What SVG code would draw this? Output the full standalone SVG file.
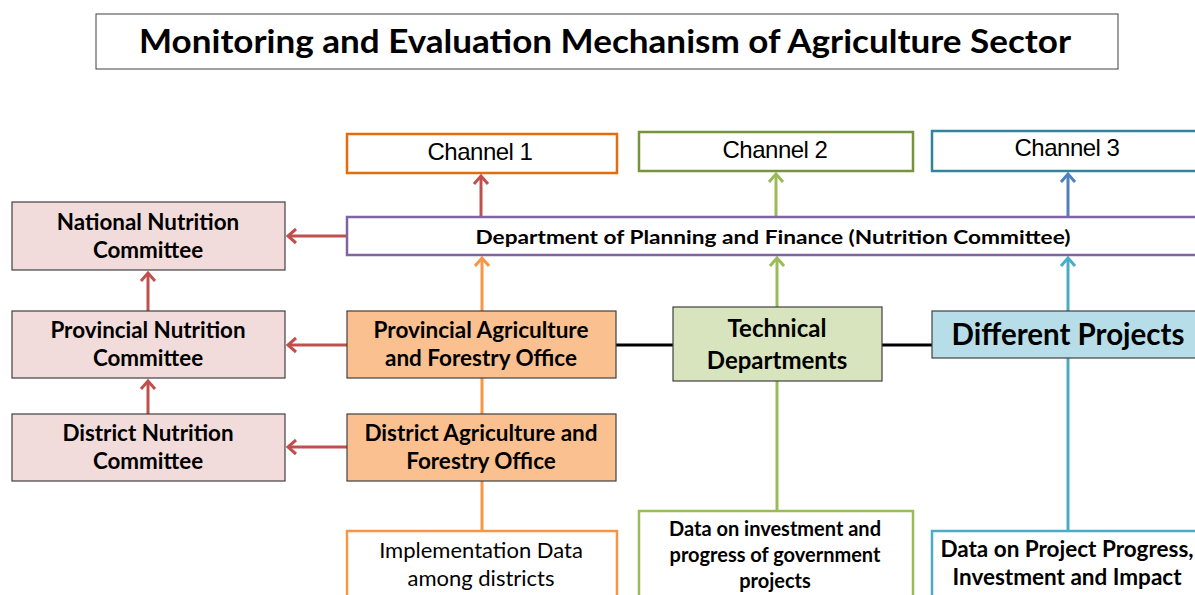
<svg xmlns="http://www.w3.org/2000/svg" width="1195" height="595" viewBox="0 0 1195 595">
<style>
.t{font-family:Lato,"Open Sans","Liberation Sans",sans-serif;font-weight:bold;fill:#000;text-anchor:middle}
.r{font-family:Lato,"Open Sans","Liberation Sans",sans-serif;fill:#000;text-anchor:middle}
.a{font-family:"Liberation Sans",Arial,sans-serif;fill:#000;text-anchor:middle;letter-spacing:-0.5px}
.box{stroke:#404040;stroke-width:1.2}
.c{fill:none;stroke-width:3}
</style>
<defs>
<marker id="mr" markerUnits="userSpaceOnUse" markerWidth="20" markerHeight="20" refX="10" refY="10" orient="auto"><path d="M2,3 L10,10 L2,17" fill="none" stroke="#C0504D" stroke-width="3"/></marker>
<marker id="mo" markerUnits="userSpaceOnUse" markerWidth="20" markerHeight="20" refX="10" refY="10" orient="auto"><path d="M2,3 L10,10 L2,17" fill="none" stroke="#F79646" stroke-width="3"/></marker>
<marker id="mg" markerUnits="userSpaceOnUse" markerWidth="20" markerHeight="20" refX="10" refY="10" orient="auto"><path d="M2,3 L10,10 L2,17" fill="none" stroke="#9BBB59" stroke-width="3"/></marker>
<marker id="mb" markerUnits="userSpaceOnUse" markerWidth="20" markerHeight="20" refX="10" refY="10" orient="auto"><path d="M2,3 L10,10 L2,17" fill="none" stroke="#4F81BD" stroke-width="3"/></marker>
<marker id="mt" markerUnits="userSpaceOnUse" markerWidth="20" markerHeight="20" refX="10" refY="10" orient="auto"><path d="M2,3 L10,10 L2,17" fill="none" stroke="#4BACC6" stroke-width="3"/></marker>
</defs>
<rect width="1195" height="595" fill="#fff"/>

<g id="title">
<rect x="96" y="14" width="1022" height="55" fill="#fff" stroke="#404040" stroke-width="1"/>
<text class="t" x="605" y="53" font-size="32" textLength="932" lengthAdjust="spacingAndGlyphs">Monitoring and Evaluation Mechanism of Agriculture Sector</text>
</g>

<g id="connectors">
<line class="c" stroke="#C0504D" x1="347" y1="236" x2="288" y2="236" marker-end="url(#mr)"/>
<line class="c" stroke="#C0504D" x1="347" y1="345" x2="288" y2="345" marker-end="url(#mr)"/>
<line class="c" stroke="#C0504D" x1="347" y1="447" x2="288" y2="447" marker-end="url(#mr)"/>
<line class="c" stroke="#C0504D" x1="148" y1="414" x2="148" y2="381" marker-end="url(#mr)"/>
<line class="c" stroke="#C0504D" x1="148" y1="311" x2="148" y2="273" marker-end="url(#mr)"/>
<line class="c" stroke="#C0504D" x1="481" y1="216" x2="481" y2="176" marker-end="url(#mr)"/>
<line class="c" stroke="#9BBB59" x1="776" y1="216" x2="776" y2="174" marker-end="url(#mg)"/>
<line class="c" stroke="#4F81BD" x1="1068" y1="216" x2="1068" y2="174" marker-end="url(#mb)"/>
<line class="c" stroke="#F79646" x1="482" y1="531" x2="482" y2="481"/>
<line class="c" stroke="#F79646" x1="482" y1="414" x2="482" y2="378"/>
<line class="c" stroke="#F79646" x1="482" y1="311" x2="482" y2="258" marker-end="url(#mo)"/>
<line class="c" stroke="#9BBB59" x1="777" y1="511" x2="777" y2="381"/>
<line class="c" stroke="#9BBB59" x1="777" y1="307" x2="777" y2="258" marker-end="url(#mg)"/>
<line class="c" stroke="#4BACC6" x1="1068" y1="531" x2="1068" y2="358"/>
<line class="c" stroke="#4BACC6" x1="1068" y1="311" x2="1068" y2="258" marker-end="url(#mt)"/>
<line class="c" stroke="#000" x1="616" y1="345" x2="673" y2="345"/>
<line class="c" stroke="#000" x1="882" y1="345" x2="932" y2="345"/>
</g>

<g id="channel1">
<rect x="347" y="134" width="270" height="39" fill="#fff" stroke="#E46C0A" stroke-width="2.5"/>
<text class="a" x="480" y="160" font-size="24">Channel 1</text>
</g>
<g id="channel2">
<rect x="639" y="132" width="274" height="39" fill="#fff" stroke="#77933C" stroke-width="2.5"/>
<text class="a" x="775" y="158" font-size="24">Channel 2</text>
</g>
<g id="channel3">
<rect x="932" y="131" width="270" height="40" fill="#fff" stroke="#31849B" stroke-width="2.5"/>
<text class="a" x="1067" y="156" font-size="24">Channel 3</text>
</g>

<g id="dept">
<rect x="347" y="217" width="860" height="38" fill="#fff" stroke="#8064A2" stroke-width="2.5"/>
<text class="t" x="773" y="244" font-size="19.5" textLength="595" lengthAdjust="spacingAndGlyphs">Department of Planning and Finance (Nutrition Committee)</text>
</g>

<g id="national">
<rect class="box" x="12" y="202" width="273" height="68" fill="#F2DCDB"/>
<text class="t" x="148" y="230" font-size="22.4">National Nutrition</text>
<text class="t" x="148" y="258" font-size="22.4">Committee</text>
</g>
<g id="provincialNutrition">
<rect class="box" x="12" y="311" width="273" height="67" fill="#F2DCDB"/>
<text class="t" x="148" y="338" font-size="22.4">Provincial Nutrition</text>
<text class="t" x="148" y="366" font-size="22.4">Committee</text>
</g>
<g id="districtNutrition">
<rect class="box" x="12" y="414" width="273" height="67" fill="#F2DCDB"/>
<text class="t" x="148" y="441" font-size="22.4">District Nutrition</text>
<text class="t" x="148" y="469" font-size="22.4">Committee</text>
</g>

<g id="provincialAgri">
<rect class="box" x="347" y="311" width="269" height="67" fill="#FAC090"/>
<text class="t" x="481" y="338" font-size="22.5">Provincial Agriculture</text>
<text class="t" x="481" y="366" font-size="22.5">and Forestry Office</text>
</g>
<g id="districtAgri">
<rect class="box" x="347" y="414" width="269" height="67" fill="#FAC090"/>
<text class="t" x="481" y="441" font-size="22.5">District Agriculture and</text>
<text class="t" x="481" y="469" font-size="22.5">Forestry Office</text>
</g>

<g id="technical">
<rect class="box" x="673" y="307" width="209" height="74" fill="#D7E4BD"/>
<text class="t" x="777" y="337" font-size="24">Technical</text>
<text class="t" x="777" y="369" font-size="24">Departments</text>
</g>
<g id="projects">
<rect class="box" x="932" y="311" width="270" height="47" fill="#B7DEE8"/>
<text class="t" x="1068" y="345" font-size="29.5">Different Projects</text>
</g>

<g id="implData">
<rect x="347" y="531" width="270" height="70" fill="#fff" stroke="#F79646" stroke-width="2.5"/>
<text class="r" x="481" y="558" font-size="22">Implementation Data</text>
<text class="r" x="481" y="586" font-size="22">among districts</text>
</g>
<g id="investData">
<rect x="639" y="511" width="274" height="90" fill="#fff" stroke="#9BBB59" stroke-width="2.5"/>
<text class="t" x="775" y="536" font-size="20">Data on investment and</text>
<text class="t" x="775" y="562" font-size="20">progress of government</text>
<text class="t" x="775" y="588" font-size="20">projects</text>
</g>
<g id="projectData">
<rect x="932" y="531" width="270" height="70" fill="#fff" stroke="#4BACC6" stroke-width="2.5"/>
<text class="t" x="1067" y="557" font-size="22.5">Data on Project Progress,</text>
<text class="t" x="1067" y="585" font-size="22.5">Investment and Impact</text>
</g>
</svg>
